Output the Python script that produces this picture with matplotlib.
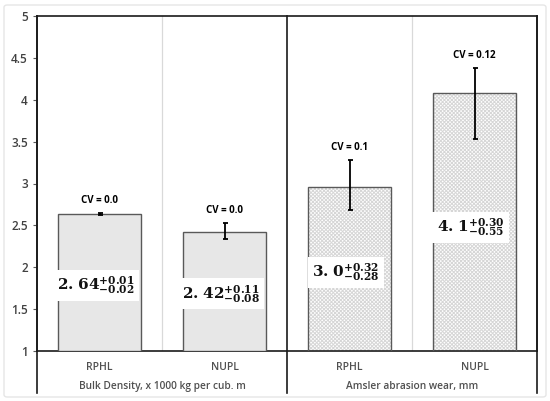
import matplotlib
matplotlib.use("Agg")
import matplotlib.pyplot as plt
from matplotlib.patches import FancyBboxPatch
from matplotlib.ticker import FuncFormatter, MultipleLocator

# ---- data ----
categories = ["RPHL", "NUPL", "RPHL", "NUPL"]
groups = ["Bulk Density, x 1000 kg per cub. m", "Amsler abrasion wear, mm"]
values = [2.64, 2.42, 2.96, 4.08]
err_plus = [0.01, 0.11, 0.32, 0.30]
err_minus = [0.02, 0.08, 0.28, 0.55]
cv_labels = ["CV = 0.0", "CV = 0.0", "CV = 0.1", "CV = 0.12"]
value_int = ["2", "2", "3", "4"]
value_frac = ["64", "42", "0", "1"]
plus_text = ["+0.01", "+0.11", "+0.32", "+0.30"]
minus_text = ["-0.02", "-0.08", "-0.28", "-0.55"]
hatched = [False, False, True, True]

plt.rcParams["font.family"] = ["Open Sans", "DejaVu Sans"]
plt.rcParams["mathtext.fontset"] = "dejavuserif"
plt.rcParams["hatch.linewidth"] = 0.7

fig = plt.figure(figsize=(5.5, 4.01), dpi=100)
fig.patch.set_facecolor("white")
frame = FancyBboxPatch((4 / 550, 1 - 397 / 401), 542 / 550, 392 / 401,
                       boxstyle="round,pad=0,rounding_size=0.006",
                       transform=fig.transFigure, fill=False,
                       edgecolor="#e6e6e6", linewidth=1.0)
fig.patches.append(frame)

ax = fig.add_axes([37 / 550, 1 - 351 / 401, 500 / 550, 335 / 401])
base = 1.0
x = list(range(len(categories)))
heights = [v - base for v in values]
width = 0.66

for xi, h, hat in zip(x, heights, hatched):
    if hat:
        plt.rcParams["hatch.color"] = "#d6d6d6"
        ax.bar(xi, h, width, bottom=base, color="white", hatch="xxxxxxxxx",
               edgecolor="#d6d6d6", linewidth=0, zorder=2)
        ax.bar(xi, h, width, bottom=base, fill=False, edgecolor="#595959",
               linewidth=1.0, zorder=3)
    else:
        ax.bar(xi, h, width, bottom=base, color="#e7e7e7",
               edgecolor="#595959", linewidth=1.0, zorder=3)

ax.errorbar(x, values, yerr=[err_minus, err_plus], fmt="none",
            ecolor="black", elinewidth=1.3, capsize=1.8, capthick=1.3, zorder=4)

for xi, v, ep, cv in zip(x, values, err_plus, cv_labels):
    ax.annotate(cv, (xi, v + ep), xytext=(0, 5), textcoords="offset points",
                ha="center", va="bottom", fontsize=7, fontweight="bold",
                color="black", zorder=5)

for xi, v, vi, vf, pt, mt in zip(x, values, value_int, value_frac,
                                 plus_text, minus_text):
    y = base + (v - base) * 0.48
    s = (r"$\mathbf{%s.}\hspace{0.12}\mathbf{%s}^{\mathbf{%s}}_{\mathbf{%s}}$"
         % (vi, vf, pt, mt))
    ax.text(xi - 0.03, y, s, ha="center", va="center", fontsize=11,
            color="#111111", zorder=6,
            bbox=dict(boxstyle="square,pad=0.3", facecolor="white",
                      edgecolor="none"))

ax.set_xlim(-0.5, len(categories) - 0.5)
ax.set_ylim(1, 5)
ax.yaxis.set_major_locator(MultipleLocator(0.5))
ax.yaxis.set_major_formatter(FuncFormatter(lambda v, p: "%g" % v))
ax.tick_params(axis="y", direction="out", length=3, width=0.8,
               colors="#595959", labelsize=8.5, labelcolor="#404040")
for lab in ax.get_yticklabels():
    lab.set_fontweight("semibold")
ax.set_xticks([])

for s in ["left", "right", "top", "bottom"]:
    ax.spines[s].set_color("#1a1a1a")
    ax.spines[s].set_linewidth(1.2)

# light gridlines between categories within groups
for gx in [0.5, 2.5]:
    ax.axvline(gx, color="#d9d9d9", linewidth=0.9, zorder=1)

# separators extending below the axis
trans = ax.get_xaxis_transform()
low = -42 / 335
for sx in [-0.5, 1.5, 3.5]:
    ax.plot([sx, sx], [1, low], transform=trans, color="#1a1a1a",
            linewidth=1.2, clip_on=False, zorder=7)

# category labels
for xi, c in zip(x, categories):
    ax.text(xi, -16 / 335, c, transform=trans, ha="center", va="center",
            fontsize=7.5, color="#505050", fontweight="semibold")
for gi, g in enumerate(groups):
    ax.text(gi * 2 + 0.5, -36 / 335, g, transform=trans, ha="center",
            va="center", fontsize=7.3, color="#505050", fontweight="semibold")

fig.savefig("out.png", dpi=100, facecolor="white")
